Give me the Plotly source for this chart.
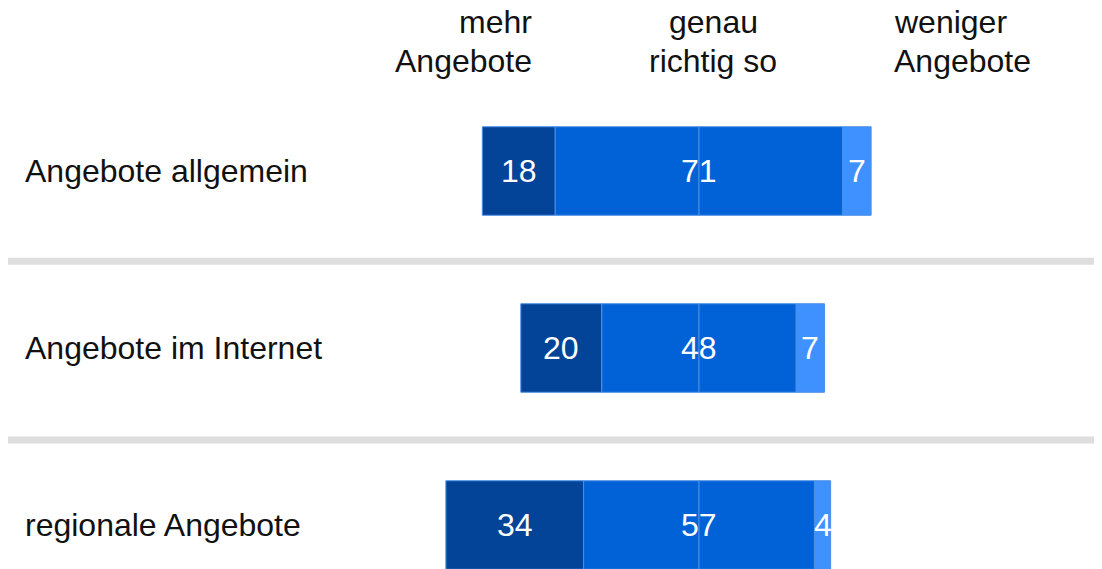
import plotly.graph_objects as go

categories = ["Angebote allgemein", "Angebote im Internet", "regionale Angebote"]
mehr = [18, 20, 34]
genau = [71, 48, 57]
weniger = [7, 7, 4]
headers = [("mehr", "Angebote"), ("genau", "richtig so"), ("weniger", "Angebote")]

C_DARK = "#034398"
C_MID = "#0062d6"
C_LIGHT = "#3f91ff"
EDGE = "#4a8fe6"
FONT = "Liberation Sans, Arial, sans-serif"

W, H = 1102, 569
OFF = 8            # page offset of the figure inside the browser window
SCALE = 4.05       # px per percentage point
CX = 699 - OFF     # figure pixel of the centre line
ROW0 = 171 - OFF   # figure pixel of the first row centre
STEP = 177         # px between rows

ypos = list(range(len(categories)))
half = [g / 2 for g in genau]

fig = go.Figure()
common = dict(orientation="h", width=0.5, marker_line_color=EDGE, marker_line_width=1,
              hoverinfo="skip", showlegend=False)
fig.add_bar(y=ypos, x=mehr, base=[-h - m for h, m in zip(half, mehr)],
            marker_color=C_DARK, **common)
fig.add_bar(y=ypos, x=half, base=[-h for h in half], marker_color=C_MID, **common)
fig.add_bar(y=ypos, x=half, base=[0] * len(half), marker_color=C_MID, **common)
fig.add_bar(y=ypos, x=weniger, base=half, marker_color=C_LIGHT, **common)

annotations = []
# value labels
for i in ypos:
    for xv, t in [(-half[i] - mehr[i] / 2, mehr[i]), (0, genau[i]),
                  (half[i] + weniger[i] / 2, weniger[i])]:
        annotations.append(dict(x=xv, xref="x", y=i, yref="y", text=str(t),
                                xanchor="center", yanchor="middle", showarrow=False,
                                font=dict(size=32, color="white", family=FONT)))

for i, c in enumerate(categories):
    annotations.append(dict(x=(25 - OFF - 2) / W, xref="paper", y=i, yref="y", text=c,
                            xanchor="left", yanchor="middle", showarrow=False,
                            font=dict(size=32, color="#111111", family=FONT)))
# column headers
hx = [532 - OFF + 2, 714 - OFF - 1, 895 - OFF - 3]
hanchor = ["right", "center", "left"]
line_y = [22 - OFF, 60.5 - OFF]
for lines, x, a in zip(headers, hx, hanchor):
    for ln, yy in zip(lines, line_y):
        annotations.append(dict(x=x / W, xref="paper", y=1 - yy / H, yref="paper", text=ln,
                                xanchor=a, yanchor="middle", showarrow=False,
                                font=dict(size=32, color="#111111", family=FONT)))

shapes = []
for b in [0.51, 1.52]:
    shapes.append(dict(type="line", xref="paper", x0=0, x1=1, yref="y", y0=b, y1=b,
                       line=dict(color="#dedede", width=7), layer="below"))

fig.update_layout(
    width=W, height=H,
    margin=dict(l=0, r=0, t=0, b=0),
    paper_bgcolor="white", plot_bgcolor="white",
    barmode="overlay",
    xaxis=dict(range=[-CX / SCALE, (W - CX) / SCALE], visible=False, fixedrange=True),
    yaxis=dict(range=[(H - ROW0) / STEP, -ROW0 / STEP], visible=False, fixedrange=True),
    annotations=annotations,
    shapes=shapes,
    font=dict(family=FONT),
)

fig.write_html("out.html")
